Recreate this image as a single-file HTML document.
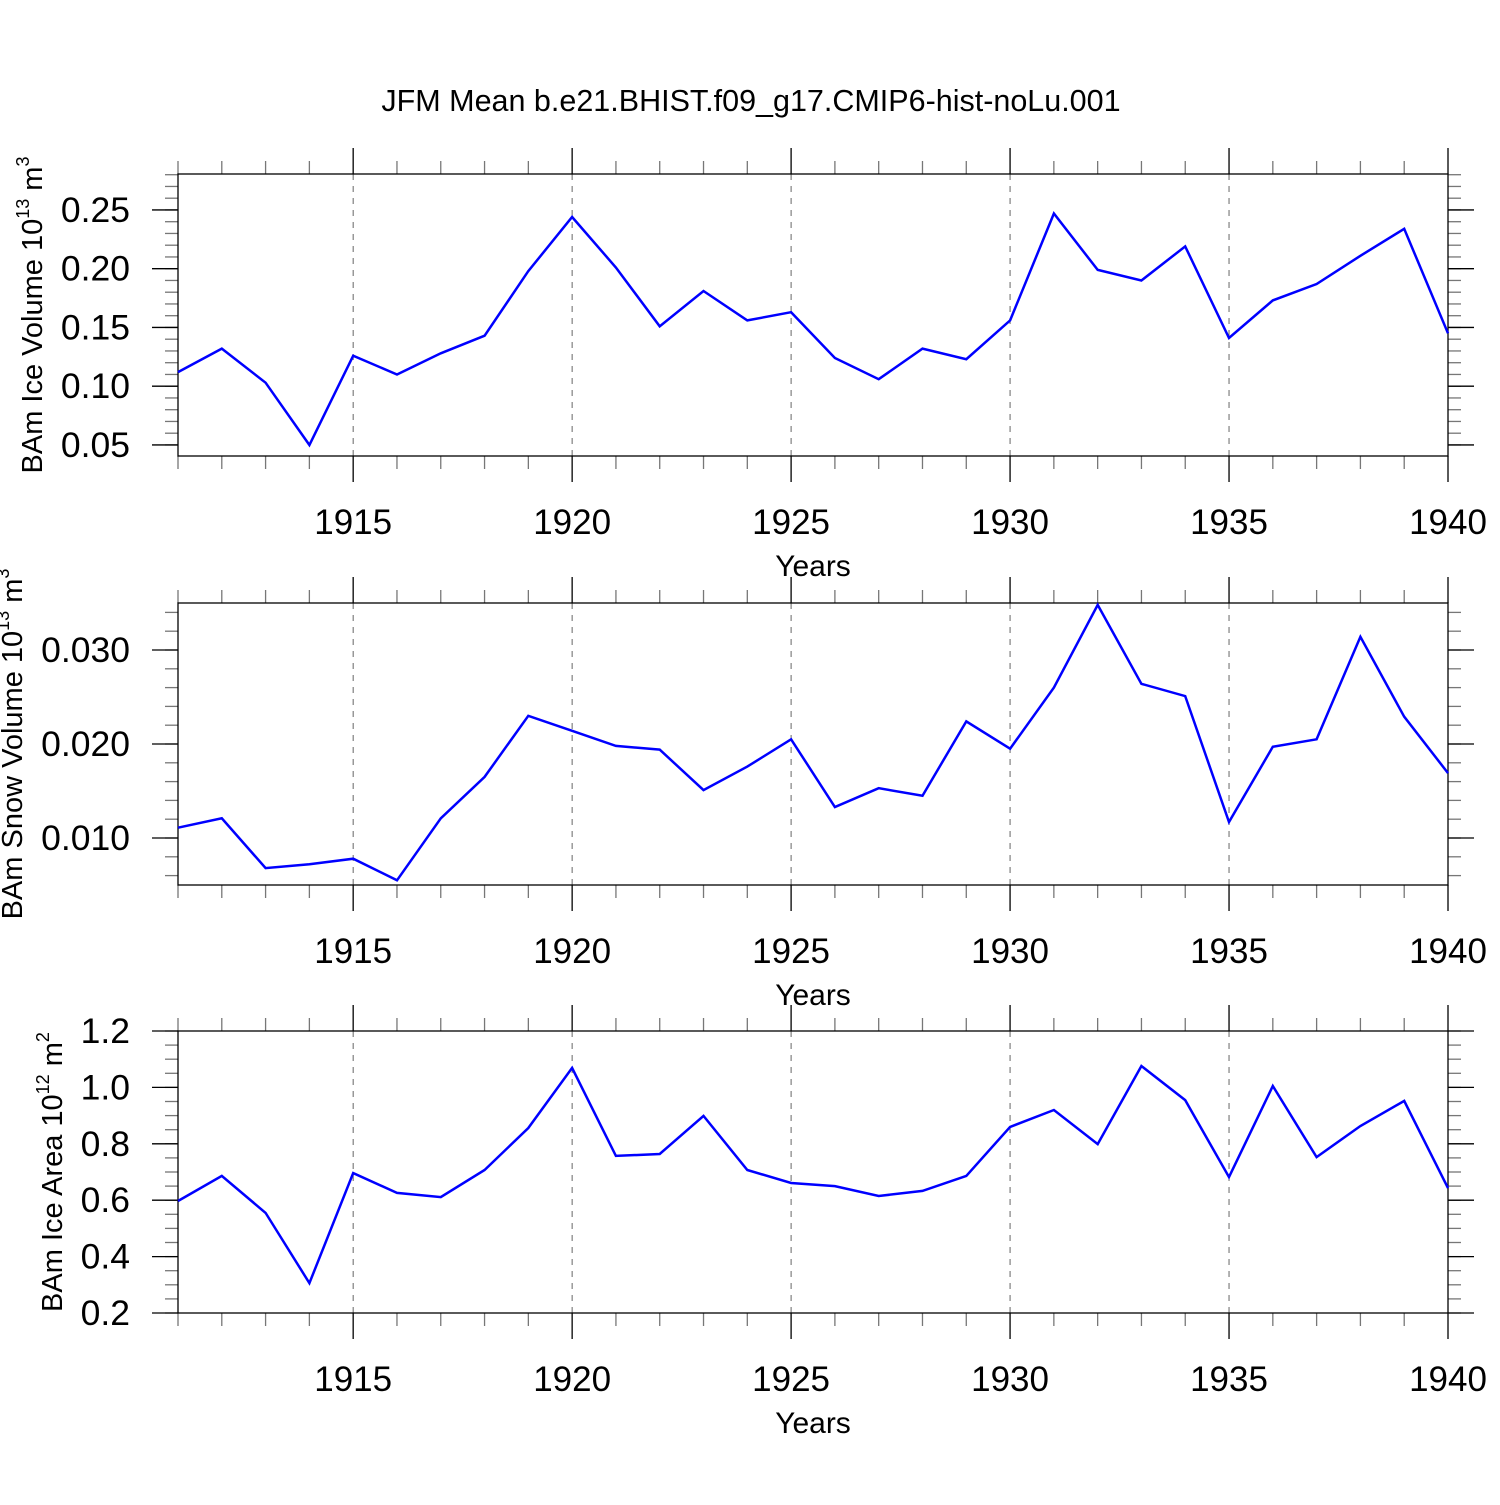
<!DOCTYPE html>
<html><head><meta charset="utf-8"><style>
body{margin:0;background:#fff}
svg text{font-family:"Liberation Sans",sans-serif;fill:#000}
</style></head><body>
<svg id="chart" width="1500" height="1500" viewBox="0 0 1500 1500" xmlns="http://www.w3.org/2000/svg">
<text x="751" y="111" font-size="30.5" text-anchor="middle">JFM Mean b.e21.BHIST.f09_g17.CMIP6-hist-noLu.001</text>
</svg>
<script>
const years = [1911,1912,1913,1914,1915,1916,1917,1918,1919,1920,1921,1922,1923,1924,1925,1926,1927,1928,1929,1930,1931,1932,1933,1934,1935,1936,1937,1938,1939,1940];
const iceVolume = [0.112,0.132,0.103,0.050,0.126,0.110,0.128,0.143,0.198,0.244,0.201,0.151,0.181,0.156,0.163,0.124,0.106,0.132,0.123,0.156,0.247,0.199,0.190,0.219,0.141,0.173,0.187,0.211,0.234,0.145];
const snowVolume = [0.0111,0.0121,0.0068,0.0072,0.0078,0.0055,0.0121,0.0165,0.0230,0.0214,0.0198,0.0194,0.0151,0.0176,0.0205,0.0133,0.0153,0.0145,0.0224,0.0195,0.0260,0.0348,0.0264,0.0251,0.0117,0.0197,0.0205,0.0314,0.0229,0.0169];
const iceArea = [0.597,0.686,0.555,0.306,0.696,0.626,0.611,0.707,0.856,1.069,0.757,0.764,0.899,0.707,0.661,0.650,0.615,0.633,0.686,0.860,0.920,0.799,1.076,0.955,0.682,1.005,0.753,0.863,0.952,0.643];
const xTicks = [1915,1920,1925,1930,1935,1940];
const iceVolTicks = ["0.05","0.10","0.15","0.20","0.25"];
const snowTicks = ["0.010","0.020","0.030"];
const areaTicks = ["0.2","0.4","0.6","0.8","1.0","1.2"];

const svg = document.getElementById('chart');
const NS = 'http://www.w3.org/2000/svg';
const X0 = 178, X1 = 1448;
function xs(v){ return X0 + (v - 1911) / (1940 - 1911) * (X1 - X0); }
function mk(tag, attrs, parent){ const e = document.createElementNS(NS, tag); for (const k in attrs) e.setAttribute(k, attrs[k]); (parent||svg).appendChild(e); return e; }

const panels = [
  {top:174, bottom:456, ymin:0.0406, ymax:0.2806, data:iceVolume, ticks:iceVolTicks, minor:0.01, name:'ice-volume', label:['BAm Ice Volume 10','13',' m','3'], labelX:42},
  {top:603, bottom:885, ymin:0.005, ymax:0.035, data:snowVolume, ticks:snowTicks, minor:0.002, name:'snow-volume', label:['BAm Snow Volume 10','13',' m','3'], labelX:22},
  {top:1031, bottom:1313, ymin:0.2, ymax:1.2, data:iceArea, ticks:areaTicks, minor:0.05, name:'ice-area', label:['BAm Ice Area 10','12',' m','2'], labelX:62}
];

panels.forEach(p => {
  const g = mk('g', {});
  
  
  const ys = v => p.bottom - (v - p.ymin) / (p.ymax - p.ymin) * (p.bottom - p.top);
  xTicks.slice(0,5).forEach(t => {
    const l = mk('line', {x1:xs(t), x2:xs(t), y1:p.top, y2:p.bottom, stroke:'#666', 'stroke-width':1, 'stroke-dasharray':'6,6'}, g);
    
    
  });
  years.forEach(yv => {
    const major = xTicks.includes(yv);
    const len = major ? 26 : 13;
    const c = major ? '#000' : '#777';
    mk('line', {x1:xs(yv), x2:xs(yv), y1:p.top - len, y2:p.top, stroke:c, 'stroke-width':1.3}, g);
    mk('line', {x1:xs(yv), x2:xs(yv), y1:p.bottom, y2:p.bottom + len, stroke:c, 'stroke-width':1.3}, g);
  });
  xTicks.forEach(t => {
    const tx = mk('text', {x:xs(t), y:p.bottom + 78, 'font-size':35, 'text-anchor':'middle'}, g);
    tx.textContent = t;
    
    
  });
  const xt = mk('text', {x:813, y:p.bottom + 120, 'font-size':30, 'text-anchor':'middle'}, g);
  xt.textContent = 'Years';
  
  
  const start = Math.ceil(p.ymin / p.minor - 1e-6);
  for (let i = start; i * p.minor <= p.ymax + 1e-9; i++) {
    const y = ys(i * p.minor);
    mk('line', {x1:X0 - 13, x2:X0, y1:y, y2:y, stroke:'#777', 'stroke-width':1.3}, g);
    mk('line', {x1:X1, x2:X1 + 13, y1:y, y2:y, stroke:'#777', 'stroke-width':1.3}, g);
  }
  p.ticks.forEach(t => {
    const y = ys(parseFloat(t));
    mk('line', {x1:X0 - 26, x2:X0, y1:y, y2:y, stroke:'#000', 'stroke-width':1.3}, g);
    mk('line', {x1:X1, x2:X1 + 26, y1:y, y2:y, stroke:'#000', 'stroke-width':1.3}, g);
    const tx = mk('text', {x:X0 - 48, y:y + 12, 'font-size':35.5, 'text-anchor':'end'}, g);
    tx.textContent = t;
    
    
  });
  const fr = mk('rect', {x:X0, y:p.top, width:X1 - X0, height:p.bottom - p.top, fill:'none', stroke:'#000', 'stroke-width':1.3}, g);
  
  
  const pts = years.map((yv, i) => xs(yv).toFixed(1) + ',' + ys(p.data[i]).toFixed(1)).join(' ');
  const pl = mk('polyline', {points:pts, fill:'none', stroke:'#0000ff', 'stroke-width':2.5, 'stroke-linejoin':'miter'}, g);
  
  
  const cy = (p.top + p.bottom) / 2;
  const yl = mk('text', {x:0, y:0, 'font-size':29, 'text-anchor':'middle', transform:'translate(' + p.labelX + ',' + cy + ') rotate(-90)'}, g);
  yl.innerHTML = p.label[0] + '<tspan font-size="18" dy="-13">' + p.label[1] + '</tspan><tspan dy="13">' + p.label[2] + '</tspan><tspan font-size="18" dy="-13">' + p.label[3] + '</tspan>';
  
  
});
</script>
</body></html>
